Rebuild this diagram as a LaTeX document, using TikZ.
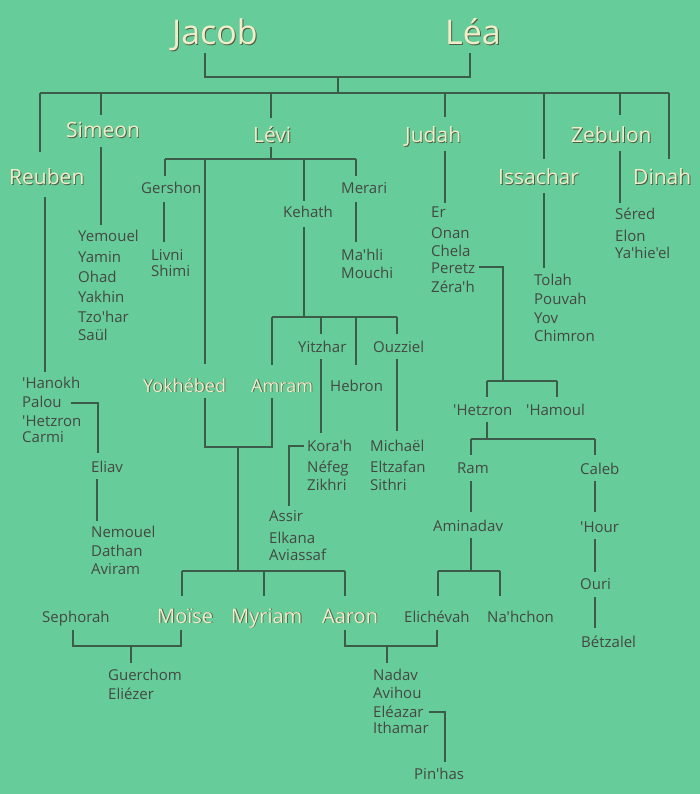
\documentclass[tikz,border=0pt]{standalone}
\usepackage{fontspec}
\setmainfont{Open Sans}[Ligatures=TeXOff]
\definecolor{bg}{RGB}{102,204,153}
\definecolor{lncol}{RGB}{58,92,72}
\definecolor{txt}{RGB}{68,72,68}
\definecolor{cream}{RGB}{240,238,200}
\definecolor{shd}{RGB}{80,92,70}
\newcommand\emb[1]{\rlap{\kern0.9pt\raisebox{-0.9pt}{\color{shd}#1}}{\color{cream}#1}}
\tikzset{
  sm/.style={anchor=base west, inner sep=0pt, text=txt, font=\fontsize{15}{18}\selectfont},
  bigA/.style={anchor=base west, inner sep=0pt, font=\fontsize{34}{40}\selectfont},
  bigB/.style={anchor=base west, inner sep=0pt, font=\fontsize{21}{25}\selectfont},
  bigC/.style={anchor=base west, inner sep=0pt, font=\fontsize{18}{22}\selectfont},
  bigD/.style={anchor=base west, inner sep=0pt, font=\fontsize{20}{24}\selectfont},
  ln/.style={draw=lncol, line width=1.1pt}
}
\begin{document}
\begin{tikzpicture}[x=1pt,y=-1pt]
\fill[bg] (0,0) rectangle (700,794);
\useasboundingbox (0,0) rectangle (700,794);
% ---- big names
\node[bigA] (Jacob) at (172,45) {\emb{Jacob}};
\node[bigA] (Lea) at (445,45) {\emb{Léa}};
\node[bigB] (Reuben) at (9,185) {\emb{Reuben}};
\node[bigB] (Simeon) at (66,138) {\emb{Simeon}};
\node[bigB] (Levi) at (253,143) {\emb{Lévi}};
\node[bigB] (Judah) at (405,143) {\emb{Judah}};
\node[bigB] (Zebulon) at (571,143) {\emb{Zebulon}};
\node[bigB] (Issachar) at (498,185) {\emb{Issachar}};
\node[bigB] (Dinah) at (633,185) {\emb{Dinah}};
\node[bigC] (Yokhebed) at (143,392) {\emb{Yokhébed}};
\node[bigC] (Amram) at (251,392) {\emb{Amram}};
\node[bigD] (Moise) at (157,623) {\emb{Moïse}};
\node[bigD] (Myriam) at (231,623) {\emb{Myriam}};
\node[bigD] (Aaron) at (322,623) {\emb{Aaron}};
% ---- small names
\node[sm] (Yemouel) at (78,241) {Yemouel};
\node[sm] (Yamin) at (78,262) {Yamin};
\node[sm] (Ohad) at (78,282) {Ohad};
\node[sm] (Yakhin) at (78,302) {Yakhin};
\node[sm] (Tzohar) at (78,322) {Tzo'har};
\node[sm] (Saul) at (78,340) {Saül};
\node[sm] (Hanokh) at (22,388) {'Hanokh};
\node[sm] (Palou) at (22,407) {Palou};
\node[sm] (HetzronR) at (22,426) {'Hetzron};
\node[sm] (Carmi) at (22,442) {Carmi};
\node[sm] (Eliav) at (91,472) {Eliav};
\node[sm] (Nemouel) at (91,537) {Nemouel};
\node[sm] (Dathan) at (91,556) {Dathan};
\node[sm] (Aviram) at (91,574) {Aviram};
\node[sm] (Gershon) at (141,194) {Gershon};
\node[sm] (Merari) at (341,194) {Merari};
\node[sm] (Kehath) at (283,218) {Kehath};
\node[sm] (Livni) at (151,260) {Livni};
\node[sm] (Shimi) at (151,276) {Shimi};
\node[sm] (Mahli) at (341,260) {Ma'hli};
\node[sm] (Mouchi) at (341,278) {Mouchi};
\node[sm] (Yitzhar) at (298,352) {Yitzhar};
\node[sm] (Ouzziel) at (373,352) {Ouzziel};
\node[sm] (Hebron) at (330,391) {Hebron};
\node[sm] (Korah) at (307,451) {Kora'h};
\node[sm] (Nefeg) at (307,472) {Néfeg};
\node[sm] (Zikhri) at (307,490) {Zikhri};
\node[sm] (Michael) at (370,451) {Michaël};
\node[sm] (Eltzafan) at (370,472) {Eltzafan};
\node[sm] (Sithri) at (370,490) {Sithri};
\node[sm] (Assir) at (269,521) {Assir};
\node[sm] (Elkana) at (269,543) {Elkana};
\node[sm] (Aviassaf) at (269,560) {Aviassaf};
\node[sm] (Er) at (431,218) {Er};
\node[sm] (Onan) at (431,238) {Onan};
\node[sm] (Chela) at (431,256) {Chela};
\node[sm] (Peretz) at (431,273) {Peretz};
\node[sm] (Zerah) at (431,292) {Zéra'h};
\node[sm] (Tolah) at (534,285) {Tolah};
\node[sm] (Pouvah) at (534,304) {Pouvah};
\node[sm] (Yov) at (534,323) {Yov};
\node[sm] (Chimron) at (534,341) {Chimron};
\node[sm] (Sered) at (615,219) {Séred};
\node[sm] (Elon) at (615,241) {Elon};
\node[sm] (Yahieel) at (615,258) {Ya'hie'el};
\node[sm] (HetzronJ) at (453,415) {'Hetzron};
\node[sm] (Hamoul) at (526,415) {'Hamoul};
\node[sm] (Ram) at (457,473) {Ram};
\node[sm] (Caleb) at (580,474) {Caleb};
\node[sm] (Aminadav) at (433,531) {Aminadav};
\node[sm] (Hour) at (580,532) {'Hour};
\node[sm] (Ouri) at (580,589) {Ouri};
\node[sm] (Betzalel) at (581,647) {Bétzalel};
\node[sm] (Elichevah) at (404,622) {Elichévah};
\node[sm] (Nahchon) at (487,622) {Na'hchon};
\node[sm] (Sephorah) at (42,622) {Sephorah};
\node[sm] (Guerchom) at (108,680) {Guerchom};
\node[sm] (Eliezer) at (108,699) {Eliézer};
\node[sm] (Nadav) at (373,680) {Nadav};
\node[sm] (Avihou) at (373,698) {Avihou};
\node[sm] (Eleazar) at (373,717) {Eléazar};
\node[sm] (Ithamar) at (373,733) {Ithamar};
\node[sm] (Pinhas) at (414,779) {Pin'has};
% ---- junction coordinates
\coordinate (jl) at (338,77);
\coordinate (kids) at (338,93);
\coordinate (lv) at (271,159);
\coordinate (kh) at (304,317);
\coordinate (ya) at (238,447);
\coordinate (ma) at (238,571);
\coordinate (sm) at (131,646);
\coordinate (ae) at (387,646);
\coordinate (pz) at (503,381);
\coordinate (hz) at (487,439);
\coordinate (am) at (471,571);
% ---- connectors
\path[ln] (205,53) -- (205,77) -- (470,77) -- (470,53);
\path[ln] (jl) -- (kids);
\path[ln] (40,93) -- (669,93);
\path[ln] (40,93) -- (40,152);
\path[ln] (101,93) -- (101,115);
\path[ln] (271,93) -- (271,118);
\path[ln] (445,93) -- (445,117);
\path[ln] (544,93) -- (544,159);
\path[ln] (620,93) -- (620,115);
\path[ln] (669,93) -- (669,159);
% Simeon, Reuben
\path[ln] (101,147) -- (101,225);
\path[ln] (45,197) -- (45,372);
\path[ln] (71,403) -- (98,403) -- (98,453);
\path[ln] (97,479) -- (97,521);
% Levi
\path[ln] (271,147) -- (lv);
\path[ln] (165,159) -- (356,159);
\path[ln] (165,159) -- (165,176);
\path[ln] (205,159) -- (205,364);
\path[ln] (304,159) -- (304,201);
\path[ln] (356,159) -- (356,176);
\path[ln] (164,202) -- (164,242);
\path[ln] (356,202) -- (356,242);
% Kehath
\path[ln] (304,227) -- (kh);
\path[ln] (272,317) -- (397,317);
\path[ln] (272,317) -- (272,365);
\path[ln] (321,317) -- (321,334);
\path[ln] (356,317) -- (356,365);
\path[ln] (397,317) -- (397,334);
\path[ln] (321,359) -- (321,433);
\path[ln] (397,359) -- (397,431);
\path[ln] (304,446) -- (289,446) -- (289,506);
% Yokhebed + Amram
\path[ln] (205,398) -- (205,447) -- (272,447) -- (272,398);
\path[ln] (ya) -- (ma);
\path[ln] (182,571) -- (345,571);
\path[ln] (182,571) -- (182,596);
\path[ln] (264,571) -- (264,596);
\path[ln] (345,571) -- (345,596);
% Sephorah + Moise
\path[ln] (73,630) -- (73,646) -- (181,646) -- (181,630);
\path[ln] (sm) -- (131,663);
% Aaron + Elichevah
\path[ln] (345,630) -- (345,646) -- (437,646) -- (437,630);
\path[ln] (ae) -- (387,663);
\path[ln] (429,712) -- (445,712) -- (445,762);
% Judah
\path[ln] (445,151) -- (445,203);
\path[ln] (479,267) -- (503,267) -- (pz);
\path[ln] (487,381) -- (557,381);
\path[ln] (487,381) -- (487,397);
\path[ln] (557,381) -- (557,397);
\path[ln] (487,422) -- (hz);
\path[ln] (471,439) -- (595,439);
\path[ln] (471,439) -- (471,455);
\path[ln] (595,439) -- (595,455);
\path[ln] (471,481) -- (471,512);
\path[ln] (595,481) -- (595,512);
\path[ln] (471,538) -- (am);
\path[ln] (438,571) -- (500,571);
\path[ln] (438,571) -- (438,596);
\path[ln] (500,571) -- (500,596);
\path[ln] (595,539) -- (595,572);
\path[ln] (595,597) -- (595,628);
% Issachar, Zebulon
\path[ln] (544,193) -- (544,268);
\path[ln] (620,151) -- (620,203);
\end{tikzpicture}
\end{document}
